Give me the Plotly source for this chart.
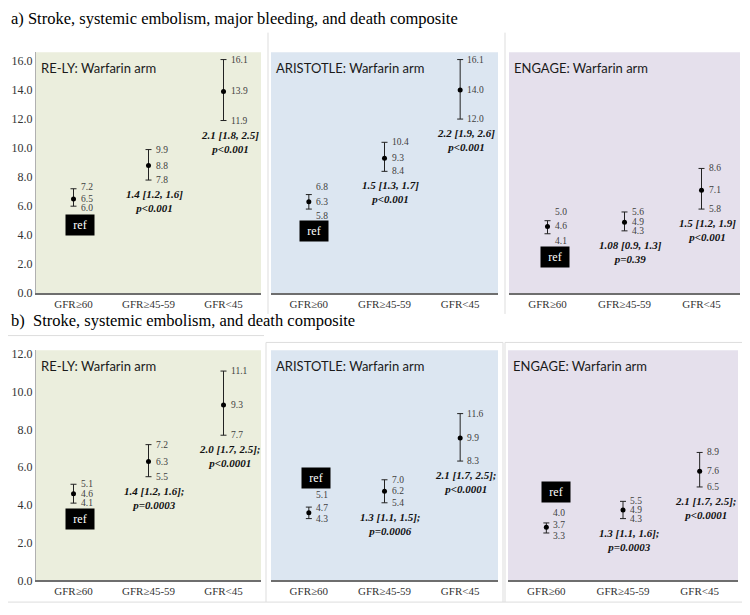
import plotly.graph_objects as go

# page body has an 8px margin, so the figure is sized to fill the rest of the window
OFF = 8
W, H = 750 - OFF, 615 - OFF

categories = ["GFR≥60", "GFR≥45-59", "GFR<45"]

# ---- Panel a) Stroke, systemic embolism, major bleeding, and death composite
a_rely_rate = [6.5, 8.8, 13.9]
a_rely_low = [6.0, 7.8, 11.9]
a_rely_high = [7.2, 9.9, 16.1]
a_rely_hr = ["", "1.4 [1.2, 1.6]", "2.1 [1.8, 2.5]"]
a_rely_p = ["", "p<0.001", "p<0.001"]

a_aris_rate = [6.3, 9.3, 14.0]
a_aris_low = [5.8, 8.4, 12.0]
a_aris_high = [6.8, 10.4, 16.1]
a_aris_hr = ["", "1.5 [1.3, 1.7]", "2.2 [1.9, 2.6]"]
a_aris_p = ["", "p<0.001", "p<0.001"]

a_eng_rate = [4.6, 4.9, 7.1]
a_eng_low = [4.1, 4.3, 5.8]
a_eng_high = [5.0, 5.6, 8.6]
a_eng_hr = ["", "1.08 [0.9, 1.3]", "1.5 [1.2, 1.9]"]
a_eng_p = ["", "p=0.39", "p<0.001"]

# ---- Panel b) Stroke, systemic embolism, and death composite
b_rely_rate = [4.6, 6.3, 9.3]
b_rely_low = [4.1, 5.5, 7.7]
b_rely_high = [5.1, 7.2, 11.1]
b_rely_hr = ["", "1.4 [1.2, 1.6];", "2.0 [1.7, 2.5];"]
b_rely_p = ["", "p=0.0003", "p<0.0001"]

b_aris_rate = [4.7, 6.2, 9.9]
b_aris_low = [4.3, 5.4, 8.3]
b_aris_high = [5.1, 7.0, 11.6]
b_aris_hr = ["", "1.3 [1.1, 1.5];", "2.1 [1.7, 2.5];"]
b_aris_p = ["", "p=0.0006", "p<0.0001"]

b_eng_rate = [3.7, 4.9, 7.6]
b_eng_low = [3.3, 4.3, 6.5]
b_eng_high = [4.0, 5.5, 8.9]
b_eng_hr = ["", "1.3 [1.1, 1.6];", "2.1 [1.7, 2.5];"]
b_eng_p = ["", "p=0.0003", "p<0.0001"]

trial_titles = ["RE-LY: Warfarin arm", "ARISTOTLE: Warfarin arm", "ENGAGE: Warfarin arm"]
section_titles = ["a) Stroke, systemic embolism, major bleeding, and death composite",
                  "b)  Stroke, systemic embolism, and death composite"]
ref_text = "ref"

SERIF = "Liberation Serif, Times New Roman, serif"
SANS = "Lato, Open Sans, sans-serif"
BG = ["#EBEEDD", "#DCE6F1", "#E5E0EC"]


def fx(px):
    return (px - OFF) / W


def fy(py):
    return 1 - (py - OFF) / H


# layout specs (pixel geometry of each panel, in window pixels)
panels = [
    dict(rate=a_rely_rate, low=a_rely_low, high=a_rely_high, hr=a_rely_hr, p=a_rely_p,
         px=(36, 261), py=(50, 295), ymax=16.6, ticks=True, bg=BG[0], title=trial_titles[0],
         ref_y=4.68, ref_dx=0.09, lab_shift=(2, 0, -2)),
    dict(rate=a_aris_rate, low=a_aris_low, high=a_aris_high, hr=a_aris_hr, p=a_aris_p,
         px=(271, 498), py=(50, 295), ymax=16.6, ticks=False, bg=BG[1], title=trial_titles[1],
         ref_y=4.27, ref_dx=0.07, lab_shift=(8, 0, -7)),
    dict(rate=a_eng_rate, low=a_eng_low, high=a_eng_high, hr=a_eng_hr, p=a_eng_p,
         px=(509, 740), py=(50, 295), ymax=16.6, ticks=False, bg=BG[2], title=trial_titles[2],
         ref_y=2.47, ref_dx=0.10, lab_shift=(9, 0, -7)),
    dict(rate=b_rely_rate, low=b_rely_low, high=b_rely_high, hr=b_rely_hr, p=b_rely_p,
         px=(36, 261), py=(353, 587), ymax=12.2, ticks=True, bg=BG[0], title=trial_titles[0],
         ref_y=3.28, ref_dx=0.09, lab_shift=(0, 0, 0)),
    dict(rate=b_aris_rate, low=b_aris_low, high=b_aris_high, hr=b_aris_hr, p=b_aris_p,
         px=(271, 498), py=(353, 587), ymax=16.0, ticks=False, bg=BG[1], title=trial_titles[1],
         ref_y=7.1, ref_dx=0.10, lab_shift=(12, 5, 0)),
    dict(rate=b_eng_rate, low=b_eng_low, high=b_eng_high, hr=b_eng_hr, p=b_eng_p,
         px=(508, 738), py=(353, 587), ymax=16.0, ticks=False, bg=BG[2], title=trial_titles[2],
         ref_y=6.15, ref_dx=0.12, lab_shift=(10, 2, -3)),
]

fig = go.Figure()
annotations = []
shapes = []

for i, s in enumerate(panels):
    n = "" if i == 0 else str(i + 1)
    xr, yr = "x" + n, "y" + n
    fig.add_trace(go.Scatter(
        x=categories, y=s["rate"], xaxis=xr, yaxis=yr, mode="markers",
        marker=dict(color="black", size=5),
        error_y=dict(type="data", symmetric=False,
                     array=[h - r for h, r in zip(s["high"], s["rate"])],
                     arrayminus=[r - l for r, l in zip(s["rate"], s["low"])],
                     color="#222222", thickness=1, width=3),
        showlegend=False, hoverinfo="skip"))

    fig.layout["xaxis" + n] = dict(
        domain=[fx(s["px"][0]), fx(s["px"][1])], anchor=yr, type="category",
        range=[-0.5, 2.5], showline=True, linecolor="#6E6E6E", linewidth=1.5,
        ticks="", showgrid=False, zeroline=False,
        tickfont=dict(family=SERIF, size=11, color="#333333"))
    fig.layout["yaxis" + n] = dict(
        domain=[fy(s["py"][1]), fy(s["py"][0])], anchor=xr,
        range=[0, s["ymax"]], dtick=2, tickformat=".1f", showgrid=False, zeroline=False,
        showticklabels=s["ticks"], showline=s["ticks"], linecolor="#B0B0B0", linewidth=1,
        ticks="", tickfont=dict(family=SERIF, size=12, color="#333333"))

    shapes.append(dict(type="rect", xref=xr + " domain", yref=yr + " domain",
                       x0=0, x1=1, y0=0, y1=1, fillcolor=s["bg"], line=dict(width=0),
                       layer="below"))

    annotations.append(dict(xref=xr + " domain", yref=yr + " domain", x=0.015, y=0.975,
                            xanchor="left", yanchor="top", showarrow=False, text=s["title"],
                            font=dict(family=SANS, size=13, color="#1a1a1a")))

    # value labels (upper, point, lower)
    for j, c in enumerate(categories):
        sh = s["lab_shift"] if j == 0 else (0, 0, 0)
        for k, v in enumerate((s["high"][j], s["rate"][j], s["low"][j])):
            annotations.append(dict(xref=xr, yref=yr, x=c, y=v, xanchor="left",
                                    yanchor="middle", xshift=5, yshift=sh[k],
                                    showarrow=False, text=f"{v:.1f}",
                                    font=dict(family=SERIF, size=9.5, color="#404040")))
        if s["hr"][j]:
            annotations.append(dict(xref=xr, yref=yr, x=c, y=s["low"][j], xanchor="center",
                                    yanchor="top", xshift=6, yshift=-6, showarrow=False,
                                    text=f"<b><i>{s['hr'][j]}</i></b><br><b><i>{s['p'][j]}</i></b>",
                                    font=dict(family=SERIF, size=11, color="#111111")))

    # reference box
    annotations.append(dict(xref=xr + " domain", yref=yr, x=(0.5 + s["ref_dx"]) / 3, y=s["ref_y"],
                            xanchor="center", yanchor="middle", showarrow=False,
                            text=ref_text, bgcolor="black", width=26, height=18,
                            font=dict(family=SERIF, size=12, color="white")))

# section titles
annotations.append(dict(xref="paper", yref="paper", x=fx(9), y=fy(16), xanchor="left",
                        yanchor="middle", showarrow=False, text=section_titles[0],
                        font=dict(family=SERIF, size=16.5, color="black")))
annotations.append(dict(xref="paper", yref="paper", x=fx(9), y=fy(323), xanchor="left",
                        yanchor="middle", showarrow=False, text=section_titles[1],
                        font=dict(family=SERIF, size=16.5, color="black")))

# faint panel frames
FR = "#DDDDDD"


def pline(x0, y0, x1, y1):
    shapes.append(dict(type="line", xref="paper", yref="paper", x0=fx(x0), x1=fx(x1),
                       y0=fy(y0), y1=fy(y1), line=dict(color=FR, width=1), layer="below"))


pline(268, 30, 268, 316)
pline(505, 30, 505, 316)
pline(8, 338, 264, 338)
pline(266, 345, 503, 345)
pline(505, 345, 748, 345)
pline(266, 345, 266, 609)
pline(503, 345, 503, 609)
pline(505, 345, 505, 609)
pline(8, 609, 748, 609)

fig.update_layout(width=W, height=H, margin=dict(l=0, r=0, t=0, b=0),
                  paper_bgcolor="white", plot_bgcolor="rgba(0,0,0,0)",
                  annotations=annotations, shapes=shapes, showlegend=False)

fig.write_html("out.html")
